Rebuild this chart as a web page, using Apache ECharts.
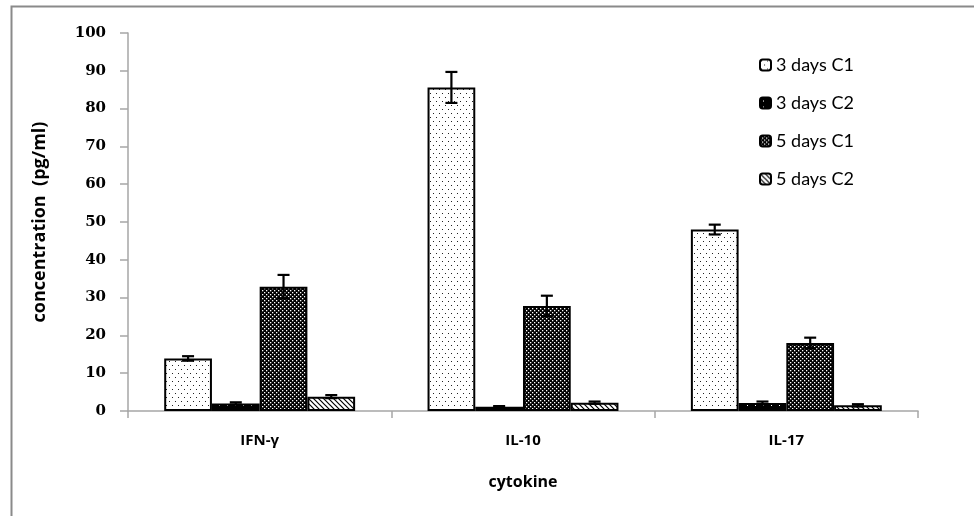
<!DOCTYPE html>
<html>
<head>
<meta charset="utf-8">
<script src="https://cdn.jsdelivr.net/npm/echarts@6/dist/echarts.min.js"></script>
<style>
html,body{margin:0;padding:0;background:#fff;}
#chart{width:974px;height:516px;}
</style>
</head>
<body>
<div id="chart"></div>
<script>
// ---- data ----
const categories = ['IFN-\u03b3', 'IL-10', 'IL-17'];
const seriesNames = ['3 days C1', '3 days C2', '5 days C1', '5 days C2'];
const days3C1 = [13.9, 85.6, 48.0];
const days3C2 = [2.0, 1.1, 2.1];
const days5C1 = [32.9, 27.8, 18.0];
const days5C2 = [3.8, 2.2, 1.5];
const err3C1 = [0.6, 4.1, 1.3];
const err3C2 = [0.3, 0.2, 0.4];
const err5C1 = [3.1, 2.7, 1.4];
const err5C2 = [0.4, 0.3, 0.3];
const yTicks = [0, 10, 20, 30, 40, 50, 60, 70, 80, 90, 100];

const values = [days3C1, days3C2, days5C1, days5C2];
const errors = [err3C1, err3C2, err5C1, err5C2];

function makePattern(w, h, draw) {
  const c = document.createElement('canvas');
  c.width = w; c.height = h;
  const ctx = c.getContext('2d');
  draw(ctx, w, h);
  return { image: c, repeat: 'repeat' };
}
const patterns = [
  makePattern(6, 8, (ctx, w, h) => { ctx.fillStyle = '#fff'; ctx.fillRect(0,0,w,h); ctx.fillStyle = '#222'; ctx.fillRect(1,1,1,1); ctx.fillRect(4,5,1,1); }),
  makePattern(8, 6, (ctx, w, h) => { ctx.fillStyle = '#000'; ctx.fillRect(0,0,w,h); ctx.fillStyle = '#fff'; ctx.fillRect(3,3,1,1); }),
  makePattern(4, 4, (ctx, w, h) => { ctx.fillStyle = '#000'; ctx.fillRect(0,0,w,h); ctx.fillStyle = '#fff'; ctx.fillRect(0,0,1.3,1.3); ctx.fillRect(2,2,1.3,1.3); }),
  makePattern(5, 5, (ctx, w, h) => { ctx.fillStyle = '#fff'; ctx.fillRect(0,0,w,h); ctx.strokeStyle = '#000'; ctx.lineWidth = 1.2;
    ctx.beginPath(); ctx.moveTo(-1,-1); ctx.lineTo(6,6); ctx.moveTo(-1,4); ctx.lineTo(1,6); ctx.moveTo(4,-1); ctx.lineTo(6,1); ctx.stroke(); })
];

const barCatGap = 0.275;
const errData = [];
values.forEach((arr, g) => arr.forEach((v, i) => errData.push([i, v, errors[g][i], g])));

const chart = echarts.init(document.getElementById('chart'));
const barSeries = seriesNames.map((name, g) => ({
  name: name,
  type: 'bar',
  data: values[g],
  barGap: 0,
  barCategoryGap: (barCatGap * 100) + '%',
  itemStyle: { color: patterns[g], borderColor: '#000', borderWidth: 2 },
  emphasis: { disabled: true },
  z: 2
}));

const sansFont = 'Open Sans';
chart.setOption({
  animation: false,
  backgroundColor: '#fff',
  graphic: [{
    type: 'rect', left: 9, top: 4, silent: true,
    shape: { x: 0, y: 0, width: 1000, height: 600 },
    style: { fill: 'none', stroke: '#8a8a8a', lineWidth: 2 }
  }],
  grid: { left: 128, right: 56, top: 33, bottom: 105 },
  legend: {
    orient: 'vertical', left: 754, top: 51,
    itemWidth: 11, itemHeight: 11, itemGap: 20,
    data: seriesNames,
    textStyle: { fontFamily: 'Lato', fontSize: 18, color: '#000' }
  },
  xAxis: {
    type: 'category', data: categories,
    name: 'cytokine', nameLocation: 'middle', nameGap: 63,
    nameTextStyle: { fontFamily: sansFont, fontWeight: 'bold', fontSize: 16, color: '#000' },
    axisLine: { lineStyle: { color: '#a6a6a6', width: 1.5 } },
    axisTick: { show: true, length: 7, lineStyle: { color: '#a6a6a6', width: 1.5 } },
    axisLabel: { margin: 22, fontFamily: sansFont, fontWeight: 'bold', fontSize: 15, color: '#000' }
  },
  yAxis: {
    type: 'value', min: yTicks[0], max: yTicks[yTicks.length - 1], interval: 10,
    name: 'concentration  (pg/ml)', nameLocation: 'middle', nameGap: 79,
    nameTextStyle: { fontFamily: sansFont, fontWeight: 'bold', fontSize: 18, color: '#000' },
    axisLine: { show: true, lineStyle: { color: '#a6a6a6', width: 1.5 } },
    axisTick: { show: true, length: 8, lineStyle: { color: '#a6a6a6', width: 1.5 } },
    splitLine: { show: false },
    axisLabel: { margin: 22, fontFamily: 'DejaVu Serif', fontWeight: 'bold', fontSize: 15, color: '#000' }
  },
  series: barSeries.concat([{
    type: 'custom',
    name: 'errors',
    data: errData,
    z: 5,
    silent: true,
    encode: { x: 0, y: 1 },
    renderItem: function (params, api) {
      const cat = api.value(0), v = api.value(1), e = api.value(2), g = api.value(3);
      const band = api.size([1, 0])[0];
      const bw = band * (1 - barCatGap) / 4;
      const cx = api.coord([cat, v])[0] + (g - 1.5) * bw;
      const yt = api.coord([cat, v + e])[1];
      const yb = api.coord([cat, v - e])[1];
      const cap = 6;
      const st = { stroke: '#000', lineWidth: 2.2 };
      return {
        type: 'group',
        children: [
          { type: 'line', shape: { x1: cx, y1: yt, x2: cx, y2: yb }, style: st },
          { type: 'line', shape: { x1: cx - cap, y1: yt, x2: cx + cap, y2: yt }, style: st },
          { type: 'line', shape: { x1: cx - cap, y1: yb, x2: cx + cap, y2: yb }, style: st }
        ]
      };
    }
  }])
});
</script>
</body>
</html>
